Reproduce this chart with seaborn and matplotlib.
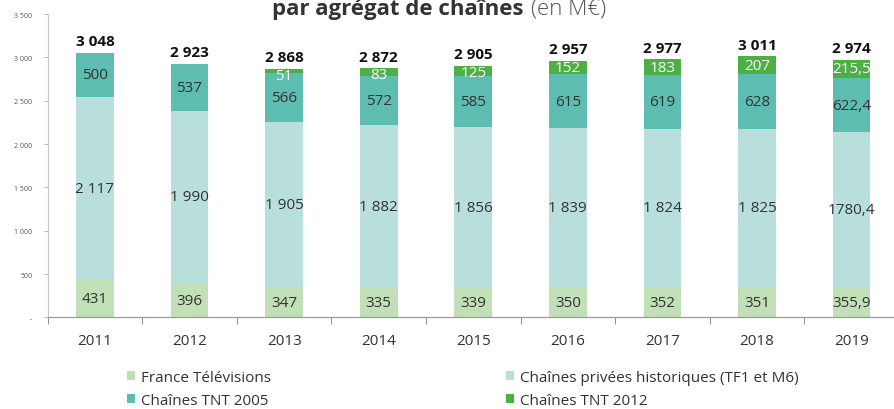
import matplotlib
matplotlib.use("Agg")
import matplotlib.pyplot as plt
import seaborn as sns
import numpy as np
import pandas as pd
from matplotlib.patches import Patch

# ---------------- data ----------------
years = ["2011", "2012", "2013", "2014", "2015", "2016", "2017", "2018", "2019"]
france_tv = [431, 396, 347, 335, 339, 350, 352, 351, 355.9]
privees = [2117, 1990, 1905, 1882, 1856, 1839, 1824, 1825, 1780.4]
tnt2005 = [500, 537, 566, 572, 585, 615, 619, 628, 622.4]
tnt2012 = [0, 0, 51, 83, 125, 152, 183, 207, 215.5]
totals = [3048, 2923, 2868, 2872, 2905, 2957, 2977, 3011, 2974]

france_tv_lbl = ["431", "396", "347", "335", "339", "350", "352", "351", "355,9"]
privees_lbl = ["2 117", "1 990", "1 905", "1 882", "1 856", "1 839", "1 824", "1 825", "1780,4"]
tnt2005_lbl = ["500", "537", "566", "572", "585", "615", "619", "628", "622,4"]
tnt2012_lbl = ["", "", "51", "83", "125", "152", "183", "207", "215,5"]
totals_lbl = ["3 048", "2 923", "2 868", "2 872", "2 905", "2 957", "2 977", "3 011", "2 974"]

series_names = ["France Télévisions", "Chaînes privées historiques (TF1 et M6)",
                "Chaînes TNT 2005", "Chaînes TNT 2012"]
colors = ["#c2e0b8", "#b8dfdb", "#5dbdb0", "#4eb044"]

yticks = [0, 500, 1000, 1500, 2000, 2500, 3000, 3500]
ytick_lbl = ["-", "500", "1 000", "1 500", "2 000", "2 500", "3 000", "3 500"]

title_bold = "par agrégat de chaînes"
title_light = "(en M€)"

# ---------------- style ----------------
sns.set_style("white")
plt.rcParams["font.family"] = ["Open Sans", "DejaVu Sans"]

fig = plt.figure(figsize=(8.95, 4.10), dpi=100)
ax = fig.add_axes([0.0533, 0.2232, 0.951, 0.7402])

df = pd.DataFrame({"year": years, "ftv": france_tv, "priv": privees,
                   "t05": tnt2005, "t12": tnt2012})

series = [france_tv, privees, tnt2005, tnt2012]
labels = [france_tv_lbl, privees_lbl, tnt2005_lbl, tnt2012_lbl]
keys = ["ftv", "priv", "t05", "t12"]
bottom = np.zeros(len(years))
for k, vals, lbls, col, idx in zip(keys, series, labels, colors, range(4)):
    sns.barplot(data=df, x="year", y=k, color=col, width=0.40, bottom=bottom,
                saturation=1, ax=ax, linewidth=0)
    vals = np.asarray(vals, dtype=float)
    for i, (v, t) in enumerate(zip(vals, lbls)):
        if not t:
            continue
        center = bottom[i] + v / 2
        top = bottom[i] + v
        if idx == 3:
            center = min(center, top - 75)
        ax.text(i, center, t, ha="center", va="center", fontsize=11,
                color="white" if idx == 3 else "#333333")
    bottom = bottom + vals

for i, t in enumerate(totals_lbl):
    ax.text(i, totals[i] + 55, t, ha="center", va="bottom", fontsize=11,
            fontweight="bold", color="#111111")

ax.set_xlim(-0.5, 8.5)
ax.set_ylim(0, 3500)
ax.set_xlabel("")
ax.set_ylabel("")
ax.set_yticks(yticks)
ax.set_yticklabels(ytick_lbl, fontsize=5, color="#555555")
ax.tick_params(axis="y", length=3, width=0.6, color="#aaaaaa", pad=8, left=True)
ax.tick_params(axis="x", which="major", length=0, pad=11, labelsize=11, labelcolor="#333333")
ax.set_xticks(np.arange(-0.5, 9.0, 1.0), minor=True)
ax.tick_params(axis="x", which="minor", length=5, width=0.8, color="#999999", bottom=True)

for s in ["top", "right"]:
    ax.spines[s].set_visible(False)
ax.spines["left"].set_color("#c8c8c8")
ax.spines["left"].set_linewidth(0.8)
ax.spines["bottom"].set_color("#9a9a9a")
ax.spines["bottom"].set_linewidth(0.9)

# title (partially cut at top as in the reference)
fig.text(524 / 895, 1 - 15 / 410, title_bold, ha="right", va="baseline",
         fontsize=16, fontweight="bold", color="#333333")
fig.text(531 / 895, 1 - 15 / 410, title_light, ha="left", va="baseline",
         fontsize=16, fontweight="light", color="#555555")

# legends
h = [Patch(facecolor=c, edgecolor="none") for c in colors]
common = dict(frameon=False, fontsize=11, handlelength=0.55, handleheight=0.55,
              handletextpad=0.35, labelspacing=0.5, borderpad=0, borderaxespad=0,
              loc="upper left", labelcolor="#333333")
fig.legend([h[0], h[2]], [series_names[0], series_names[2]],
           bbox_to_anchor=(127 / 895, 1 - 371 / 410), **common)
fig.legend([h[1], h[3]], [series_names[1], series_names[3]],
           bbox_to_anchor=(506 / 895, 1 - 371 / 410), **common)

fig.savefig("out.png", dpi=100)
